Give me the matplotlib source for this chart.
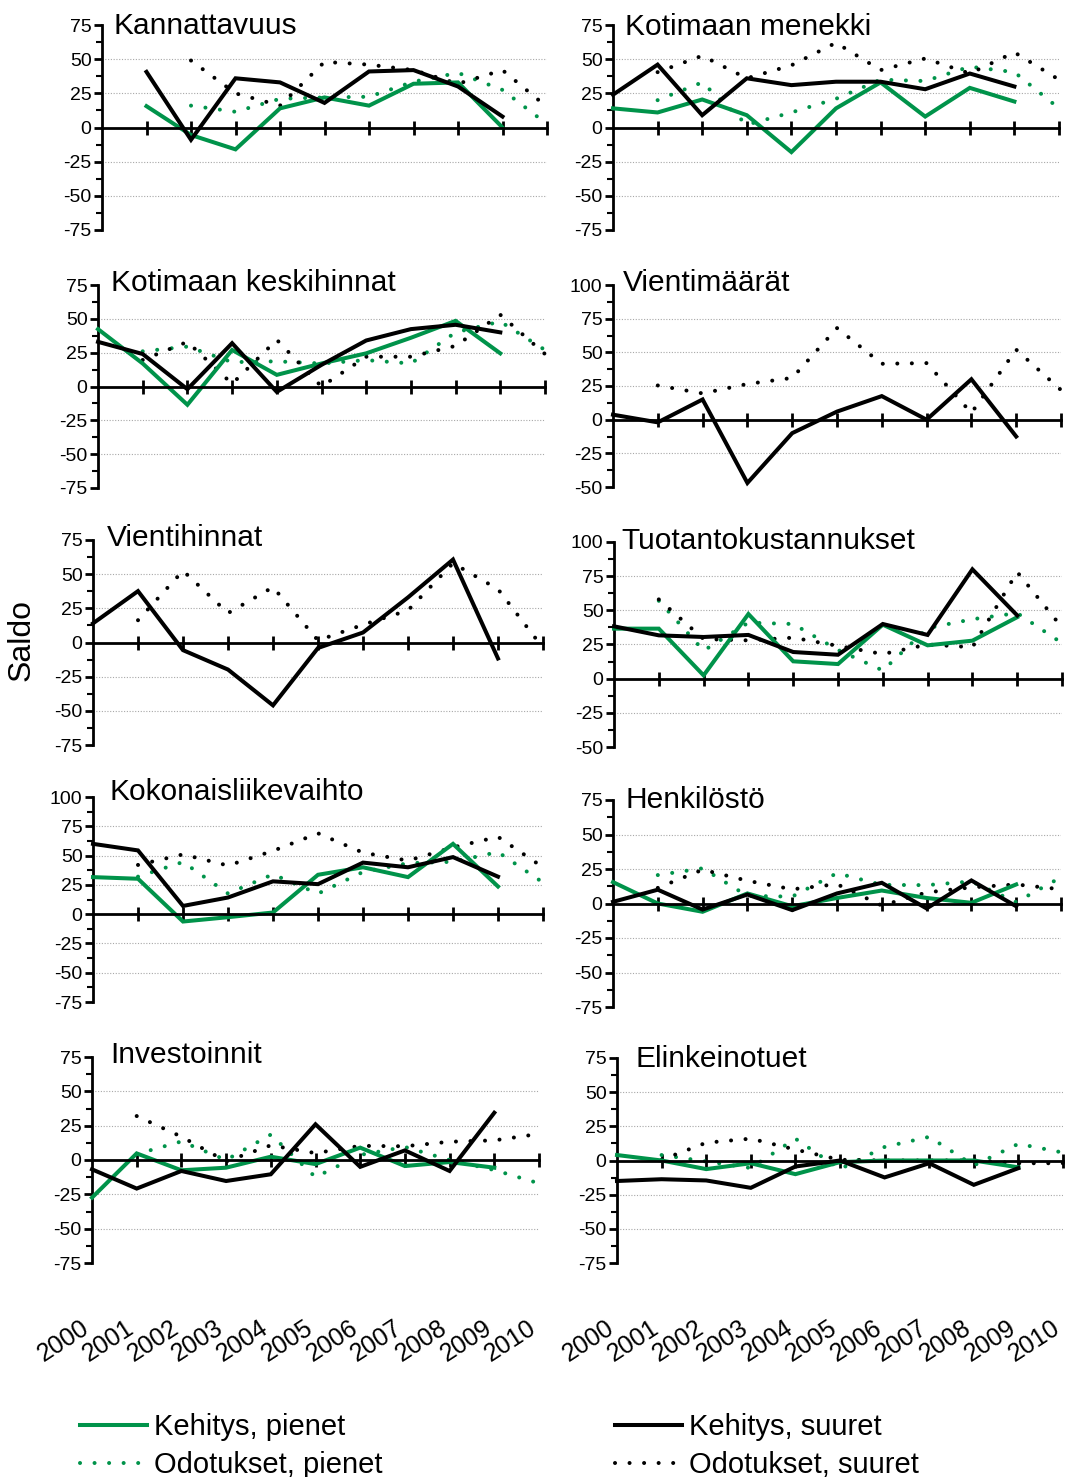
import matplotlib
matplotlib.use('Agg')
import matplotlib.pyplot as plt
from matplotlib.lines import Line2D
from matplotlib import transforms
import numpy as np

plt.rcParams['font.family'] = ['Liberation Sans', 'DejaVu Sans']
plt.rcParams['axes.unicode_minus'] = False

W, H = 1067, 1477
fig = plt.figure(figsize=(W / 100, H / 100), dpi=100)

GREEN = '#00934A'
BLACK = '#000000'

year_labels = [str(y) for y in range(2000, 2011)]
years_k = list(range(2000, 2010))   # Kehitys (development)
years_o = list(range(2001, 2011))   # Odotukset (expectations)

# ---------------- data ----------------
kann_years_k = list(range(2001, 2010))
kann_years_o = list(range(2002, 2011))
kann_kehitys_pienet = [15.6, -5.5, -16, 14, 22, 16, 32, 33, 0]
kann_kehitys_suuret = [40.7, -9, 36, 33, 18, 41, 42, 30, 8]
kann_odotukset_pienet = [16, 11.5, 21, 22, 22.5, 33.5, 40, 27.5, 2.5]
kann_odotukset_suuret = [49, 25, 16, 48, 46, 42, 32, 42, 15]

men_kehitys_pienet = [14, 11, 20.5, 9, -18, 14, 33, 8, 29, 19]
men_kehitys_suuret = [24, 46, 9, 36, 31, 33.5, 33.5, 28, 39.5, 30]
men_odotukset_pienet = [20, 33, 2, 11, 21, 35, 34, 44.5, 40.5, 14]
men_odotukset_suuret = [40.5, 52.5, 36, 45.5, 62, 42, 50.5, 39.5, 55, 35]

kesk_kehitys_pienet = [42.4, 17, -13.5, 27, 8.6, 17, 24.5, 36, 48.5, 24.5]
kesk_kehitys_suuret = [33, 24, -2, 32, -4, 16, 34, 42.4, 45.6, 40]
kesk_odotukset_pienet = [26, 29.5, 18, 18.6, 17, 19.5, 17, 40, 48, 27]
kesk_odotukset_suuret = [19.6, 33, 2, 34.5, 0, 22, 22, 30, 53, 24]

vm_kehitys_suuret = [3.7, -2, 15, -47, -10, 6, 17.5, 0, 30, -12.5]
vm_odotukset_suuret = [25.4, 19.5, 26.5, 31, 68, 41.5, 42, 5, 52, 22]

vh_kehitys_suuret = [14, 37.6, -5.6, -19.8, -46, -4, 7.3, 33, 60.7, -11.7]
vh_odotukset_suuret = [16.3, 52.5, 21.5, 40.5, 1.5, 13, 23.5, 58, 39, -4]

tk_kehitys_pienet = [36.6, 36.6, 2.4, 47.3, 12.7, 10.7, 39.5, 24.4, 27.8, 45]
tk_kehitys_suuret = [38.3, 31.7, 30.5, 32, 19.5, 17.5, 40, 32, 80, 46.3]
tk_odotukset_pienet = [57, 20.5, 41, 40, 21, 6, 37, 43.5, 48, 26]
tk_odotukset_suuret = [58, 29, 28, 30, 24, 18, 25, 23, 78, 37.5]

kl_kehitys_pienet = [31.6, 30.2, -6.3, -2.6, 1.4, 33.6, 40, 31.6, 60, 23.6]
kl_kehitys_suuret = [60, 54.4, 7, 14.2, 28, 25.6, 44, 40, 48.7, 32]
kl_odotukset_pienet = [32, 44.5, 17.6, 34, 17.5, 36, 43.5, 44.7, 53, 27]
kl_odotukset_suuret = [42, 51, 41.5, 54, 69, 52.5, 45.7, 57, 66, 40]

he_kehitys_pienet = [15.5, 0, -6, 7.3, -2, 4, 9.4, 4, 0.5, 13.8]
he_kehitys_suuret = [1.2, 10, -4.4, 6.5, -4.8, 7.3, 15, -3.6, 16.7, -2]
he_odotukset_pienet = [20.6, 25.5, 5.5, 5, 22, 13.5, 13.3, 16, 1, 19]
he_odotukset_suuret = [11.3, 24.5, 16.5, 10.3, 14, -1.5, 8, 11.7, 13.8, 10.3]

inv_kehitys_pienet = [-27.4, 4.8, -7.5, -5.6, 2.4, -3, 9, -4.4, -1.5, -5.6]
inv_kehitys_suuret = [-6.8, -20.8, -8, -15.3, -10.4, 26, -5, 7, -8, 34.4]
inv_odotukset_pienet = [4.3, 13.5, 0, 18.5, -12.5, 3.7, 9.5, 0, -7.3, -17]
inv_odotukset_suuret = [32, 17, -1, 10.7, 5, 10.3, 10, 13.3, 14.3, 19]

el_kehitys_pienet = [4, 0, -6.3, -2, -10, -1.2, 0, 0, 0, -5]
el_kehitys_suuret = [-15, -13.7, -14.6, -20, -4.4, 0, -12.4, -2, -17.8, -5.6]
el_odotukset_pienet = [4, -0.7, -5.5, 16, -6.3, 9.9, 17.3, -3.6, 12.2, 5.8]
el_odotukset_suuret = [0.5, 13, 16, 8, 0.5, 0, 0, 0, -2, -2]

legend_labels = ['Kehitys, pienet', 'Odotukset, pienet',
                 'Kehitys, suuret', 'Odotukset, suuret']

# ---------------- styles ----------------
SOLID_LW = 2.9
DOT_LW = 2.9
DOT_STYLE = (0, (0.01, 3.6))
TITLE_FS = 21.5
TICK_FS = 14


def dotted(ax, x, y, color):
    ax.plot(x, y, color=color, lw=DOT_LW, linestyle=DOT_STYLE,
            dash_capstyle='round', clip_on=False, zorder=2)


def solid(ax, x, y, color, z=3):
    ax.plot(x, y, color=color, lw=SOLID_LW, solid_joinstyle='miter',
            clip_on=False, zorder=z)


def make_axes(rect_px, ylim, title, title_px):
    l, t, r, b = rect_px
    ax = fig.add_axes([l / W, 1 - b / H, (r - l) / W, (b - t) / H])
    ax.set_xlim(2000, 2010)
    ax.set_ylim(*ylim)
    ax.patch.set_alpha(0)
    for sp in ['top', 'right']:
        ax.spines[sp].set_visible(False)
    ax.spines['bottom'].set_position(('data', 0))
    ax.spines['left'].set_linewidth(2)
    ax.spines['bottom'].set_linewidth(2)
    ax.spines['bottom'].set_zorder(4)
    majors = np.arange(ylim[0], ylim[1] + 1, 25)
    ax.set_yticks(majors)
    ax.set_yticklabels([str(int(v)) for v in majors])
    ax.set_yticks(np.arange(ylim[0], ylim[1] + 0.1, 12.5), minor=True)
    ax.tick_params(axis='y', which='major', direction='out', length=6,
                   width=2, labelsize=TICK_FS, pad=1.5)
    ax.tick_params(axis='y', which='minor', direction='out', length=4, width=1.5)
    ax.set_xticks(range(2001, 2011))
    ax.tick_params(axis='x', which='major', direction='inout', length=10,
                   width=2, labelbottom=False)
    ax.tick_params(axis='x', which='minor', bottom=False)
    for v in majors:
        if v != 0 and ylim[0] < v < ylim[1]:
            ax.axhline(v, color='#a8a8a8', lw=0.8, ls=(0, (1, 1.5)), zorder=0)
    fig.text(title_px[0] / W, 1 - title_px[1] / H, title, fontsize=TITLE_FS,
             ha='left', va='center')
    return ax


# ---------------- panels ----------------
ax1 = make_axes((102, 25, 547, 230), (-75, 75), 'Kannattavuus', (114, 26))
dotted(ax1, kann_years_o, kann_odotukset_pienet, GREEN)
dotted(ax1, kann_years_o, kann_odotukset_suuret, BLACK)
solid(ax1, kann_years_k, kann_kehitys_pienet, GREEN)
solid(ax1, kann_years_k, kann_kehitys_suuret, BLACK)

ax2 = make_axes((613, 25, 1059, 230), (-75, 75), 'Kotimaan menekki', (625, 27))
dotted(ax2, years_o, men_odotukset_pienet, GREEN)
dotted(ax2, years_o, men_odotukset_suuret, BLACK)
solid(ax2, years_k, men_kehitys_pienet, GREEN)
solid(ax2, years_k, men_kehitys_suuret, BLACK)

ax3 = make_axes((98, 285, 545, 488), (-75, 75), 'Kotimaan keskihinnat', (111, 283))
dotted(ax3, years_o, kesk_odotukset_pienet, GREEN)
dotted(ax3, years_o, kesk_odotukset_suuret, BLACK)
solid(ax3, years_k, kesk_kehitys_pienet, GREEN)
solid(ax3, years_k, kesk_kehitys_suuret, BLACK)

ax4 = make_axes((613, 285, 1061, 487), (-50, 100), 'Vientimäärät', (623, 283))
dotted(ax4, years_o, vm_odotukset_suuret, BLACK)
solid(ax4, years_k, vm_kehitys_suuret, BLACK)

ax5 = make_axes((93, 540, 543, 745), (-75, 75), 'Vientihinnat', (107, 538))
dotted(ax5, years_o, vh_odotukset_suuret, BLACK)
solid(ax5, years_k, vh_kehitys_suuret, BLACK)

ax6 = make_axes((614, 542, 1062, 747), (-50, 100), 'Tuotantokustannukset', (621, 541))
dotted(ax6, years_o, tk_odotukset_pienet, GREEN)
dotted(ax6, years_o, tk_odotukset_suuret, BLACK)
solid(ax6, years_k, tk_kehitys_pienet, GREEN)
solid(ax6, years_k, tk_kehitys_suuret, BLACK)

ax7 = make_axes((93, 797, 543, 1002), (-75, 100), 'Kokonaisliikevaihto', (109, 792))
dotted(ax7, years_o, kl_odotukset_pienet, GREEN)
dotted(ax7, years_o, kl_odotukset_suuret, BLACK)
solid(ax7, years_k, kl_kehitys_pienet, GREEN)
solid(ax7, years_k, kl_kehitys_suuret, BLACK)

ax8 = make_axes((613, 800, 1061, 1007), (-75, 75), 'Henkilöstö', (625, 800))
dotted(ax8, years_o, he_odotukset_pienet, GREEN)
dotted(ax8, years_o, he_odotukset_suuret, BLACK)
solid(ax8, years_k, he_kehitys_pienet, GREEN)
solid(ax8, years_k, he_kehitys_suuret, BLACK)

ax9 = make_axes((92, 1057, 539, 1263), (-75, 75), 'Investoinnit', (110, 1055))
dotted(ax9, years_o, inv_odotukset_pienet, GREEN)
dotted(ax9, years_o, inv_odotukset_suuret, BLACK)
solid(ax9, years_k, inv_kehitys_pienet, GREEN)
solid(ax9, years_k, inv_kehitys_suuret, BLACK)

ax10 = make_axes((617, 1058, 1063, 1263), (-75, 75), 'Elinkeinotuet', (635, 1059))
dotted(ax10, years_o, el_odotukset_pienet, GREEN)
dotted(ax10, years_o, el_odotukset_suuret, BLACK)
solid(ax10, years_k, el_kehitys_pienet, GREEN)
solid(ax10, years_k, el_kehitys_suuret, BLACK)

# ---------------- year labels under bottom row ----------------
for ax in (ax9, ax10):
    trans = transforms.offset_copy(ax.get_xaxis_transform(), fig=fig,
                                   x=-5, y=0, units='dots')
    for i, lab in enumerate(year_labels):
        ax.text(2000 + i, -0.305, lab, transform=trans, rotation=33,
                rotation_mode='anchor', ha='right', va='center', fontsize=18,
                clip_on=False)

# ---------------- Saldo ----------------
fig.text(22 / W, 1 - 640 / H, 'Saldo', rotation=90, fontsize=23,
         ha='center', va='center')

# ---------------- legends ----------------
h_kp = Line2D([], [], color=GREEN, lw=SOLID_LW)
h_op = Line2D([], [], color=GREEN, lw=DOT_LW, linestyle=DOT_STYLE,
              dash_capstyle='round')
h_ks = Line2D([], [], color=BLACK, lw=SOLID_LW)
h_os = Line2D([], [], color=BLACK, lw=DOT_LW, linestyle=DOT_STYLE,
              dash_capstyle='round')

common = dict(frameon=False, fontsize=21, handlelength=2.3,
              handletextpad=0.25, labelspacing=0.35, borderpad=0,
              borderaxespad=0, loc='upper left')
fig.legend([h_kp, h_op], legend_labels[:2],
           bbox_to_anchor=(80 / W, 1 - 1413 / H), **common)
fig.legend([h_ks, h_os], legend_labels[2:],
           bbox_to_anchor=(615 / W, 1 - 1413 / H), **common)

fig.savefig('out.png', dpi=100)
